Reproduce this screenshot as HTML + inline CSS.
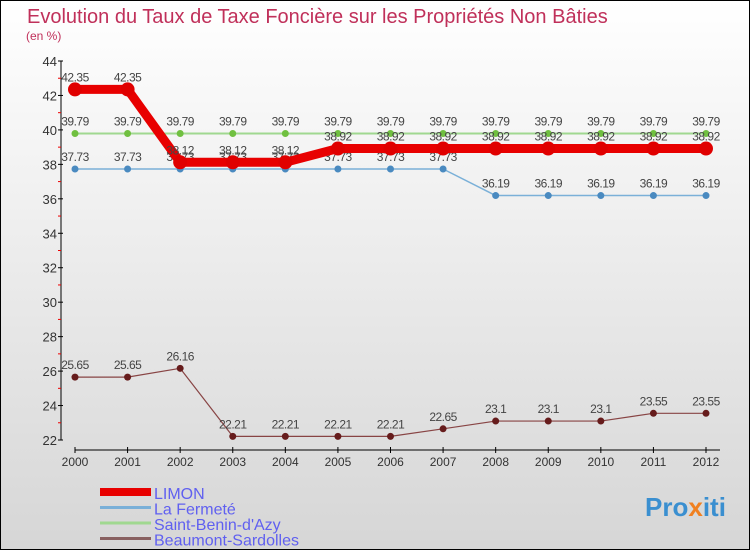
<!DOCTYPE html>
<html><head><meta charset="utf-8"><style>
body{margin:0;}
#c{width:750px;height:550px;position:relative;box-sizing:border-box;border:1px solid #000;background:linear-gradient(#fff,#d6d6d6);font-family:"Liberation Sans",sans-serif;overflow:hidden}
</style></head><body>
<div id="c">
<svg id="s" width="750" height="550" xmlns="http://www.w3.org/2000/svg" style="position:absolute;left:-1px;top:-1px">
<text x="27" y="23" font-size="20" fill="#c0305a">Evolution du Taux de Taxe Foncière sur les Propriétés Non Bâties</text>
<text x="26" y="40" font-size="12" fill="#c0305a">(en %)</text>
<g id="axes"></g><g id="series"></g>
<text x="645" y="516" font-size="26" font-weight="bold" fill="#3a8fd0">Pro<tspan fill="#f08020">x</tspan>iti</text>
</svg>
</div>
<script>
const years=[2000,2001,2002,2003,2004,2005,2006,2007,2008,2009,2010,2011,2012];
const limon=[42.35,42.35,38.12,38.12,38.12,38.92,38.92,38.92,38.92,38.92,38.92,38.92,38.92];
const ferme=[37.73,37.73,37.73,37.73,37.73,37.73,37.73,37.73,36.19,36.19,36.19,36.19,36.19];
const benin=[39.79,39.79,39.79,39.79,39.79,39.79,39.79,39.79,39.79,39.79,39.79,39.79,39.79];
const beau=[25.65,25.65,26.16,22.21,22.21,22.21,22.21,22.65,23.1,23.1,23.1,23.55,23.55];
const yTicks=[22,24,26,28,30,32,34,36,38,40,42,44];
const seriesNames=["LIMON","La Fermeté","Saint-Benin-d'Azy","Beaumont-Sardolles"];
const NS="http://www.w3.org/2000/svg";
const X=i=>75+i*(706-75)/(years.length-1);
const Y=v=>440-(v-22)*(440-61)/22;
function mk(p,t,a){const e=document.createElementNS(NS,t);for(const k in a)e.setAttribute(k,a[k]);p.appendChild(e);return e;}
const ax=document.getElementById('axes'),sg=document.getElementById('series');
let yl=mk(ax,'line',{x1:61,y1:61,x2:61,y2:440,stroke:'#000'});

yTicks.forEach(v=>{
 mk(ax,'line',{x1:58,x2:63,y1:Y(v),y2:Y(v),stroke:'#000'});
 if(v<44) mk(ax,'line',{x1:58,x2:61,y1:Y(v+1),y2:Y(v+1),stroke:'#e00'});
 const t=mk(ax,'text',{x:57,y:Y(v)+5,'font-size':13,'text-anchor':'end',fill:'#333'});t.textContent=v;
 
});
let xl=mk(ax,'line',{x1:75,y1:450,x2:720,y2:450,stroke:'#000'});

years.forEach((y,i)=>{
 mk(ax,'line',{x1:X(i),x2:X(i),y1:447,y2:453,stroke:'#000'});
 const t=mk(ax,'text',{x:X(i),y:466,'font-size':12,'text-anchor':'middle',fill:'#333'});t.textContent=y;
 
});
function draw(data,col,w,r,dot,name){
 const g=mk(sg,'g',{});
 
 mk(g,'polyline',{points:data.map((v,i)=>X(i)+','+Y(v)).join(' '),fill:'none',stroke:col,'stroke-width':w,'stroke-linejoin':'round'});
 data.forEach((v,i)=>{
  const c=mk(g,'circle',{cx:X(i),cy:Y(v),r:r,fill:dot});
  
  const t=mk(g,'text',{x:X(i),y:Y(v)-8,'font-size':12,'text-anchor':'middle',fill:'#444','letter-spacing':'-0.5'});t.textContent=v;
  
 });
}
draw(benin,'#a0d890',2,3.5,'#70c040','series-saint-benin');
draw(ferme,'#7ab0d8',1.5,3.5,'#4a8ac0','series-la-ferme');
draw(beau,'#884444',1.2,3.5,'#661c1c','series-beaumont');
draw(limon,'#e80000',9,7,'#e00000','series-limon');
const cols=['#e80000','#7ab0d8','#a0d890','#886060'],ws=[8,3,3,3];
seriesNames.forEach((n,i)=>{
 const y=492+i*15.5;
 const l=mk(sg,'line',{x1:100,x2:151,y1:y,y2:y,stroke:cols[i],'stroke-width':ws[i]});
 
 const t=mk(sg,'text',{x:154,y:y+7,'font-size':16,fill:'#6060f0'});t.textContent=n;
 
});
</script>
</body></html>
